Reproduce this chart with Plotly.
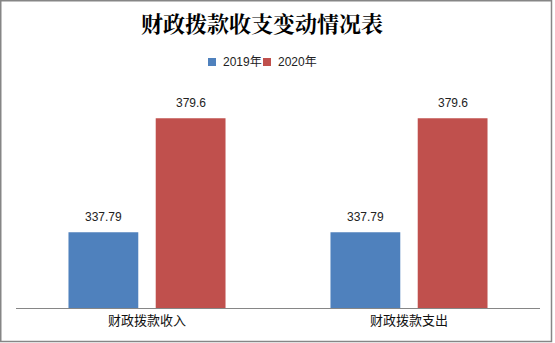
import plotly.graph_objects as go

categories = ["财政拨款收入", "财政拨款支出"]
series_names = ["2019年", "2020年"]
values_2019 = [337.79, 337.79]
values_2020 = [379.6, 379.6]
colors = ["#4F81BD", "#C0504D"]

W, H = 555, 343
L, R, T, B = 16, 15, 90, 35
plot_w = W - L - R
plot_h = H - T - B

base_font = "Liberation Sans, Noto Sans CJK SC, sans-serif"


def px_x(p):
    return (p - L) / plot_w


def px_y(p):
    return (H - B - p) / plot_h


fig = go.Figure()
for name, vals, col in zip(series_names, [values_2019, values_2020], colors):
    fig.add_trace(go.Bar(name=name, x=categories, y=vals, showlegend=False,
                         marker=dict(color=col, line=dict(width=0))))

# value labels above each bar
slot_px = plot_w / len(categories) * (1 - 0.334) / 2
for i, vals in enumerate([values_2019, values_2020]):
    shift = (i - 0.5) * slot_px
    for cat, v in zip(categories, vals):
        fig.add_annotation(x=cat, y=v, xref="x", yref="y", text=f"{v:g}", showarrow=False,
                           xshift=shift, yshift=15, yanchor="middle",
                           font=dict(family=base_font, size=12, color="#222222"))

# compact legend: small square swatch followed by the series name
legend_left = [208, 263]
for name, col, x0 in zip(series_names, colors, legend_left):
    fig.add_shape(type="rect", xref="paper", yref="paper",
                  x0=px_x(x0), x1=px_x(x0 + 8), y0=px_y(66), y1=px_y(58),
                  line=dict(width=0), fillcolor=col)
    fig.add_annotation(x=px_x(x0 + 13), y=px_y(62), xref="paper", yref="paper", text=name,
                       showarrow=False, xanchor="left", yanchor="middle",
                       font=dict(family=base_font, size=12, color="#222222"))

# outer frame of the chart
fig.add_shape(type="rect", xref="paper", yref="paper",
              x0=px_x(0.75), x1=px_x(551.5), y0=px_y(341.5), y1=px_y(0.75),
              line=dict(color="#868686", width=1.5), fillcolor="rgba(0,0,0,0)", layer="above")

fig.update_layout(
    width=W, height=H,
    margin=dict(l=L, r=R, t=T, b=B),
    paper_bgcolor="white", plot_bgcolor="white",
    barmode="group", bargap=0.334, bargroupgap=0.2,
    title=dict(text="<b>财政拨款收支变动情况表</b>", x=262 / W, xref="container", xanchor="center",
               y=1 - 24 / H, yref="container", yanchor="middle",
               font=dict(family="Noto Serif CJK SC, Noto Sans CJK SC, serif", size=22, color="#000000")),
    xaxis=dict(showline=True, linecolor="#868686", linewidth=1, ticks="", showgrid=False,
               tickfont=dict(family=base_font, size=13, color="#111111")),
    yaxis=dict(range=[310, 390], visible=False, showgrid=False, zeroline=False),
    showlegend=False,
)

fig.write_html("out.html")
